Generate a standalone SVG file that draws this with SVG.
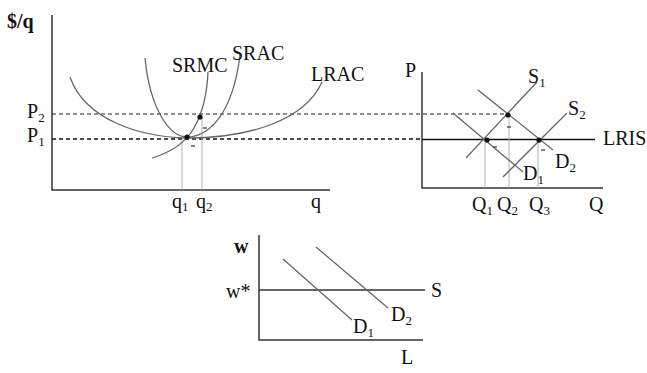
<svg xmlns="http://www.w3.org/2000/svg" width="647" height="373" viewBox="0 0 647 373">
<style>
text{font-family:"Liberation Serif","Times New Roman",serif;font-size:20px;fill:#111}
.sub{font-size:13px}
.axis{stroke:#333;stroke-width:1.5;fill:none}
.curve{stroke:#666;stroke-width:1.3;fill:none}
.dash{stroke:#222;stroke-width:1.1;stroke-dasharray:4 3;fill:none}
.dash2{stroke:#111;stroke-width:1.6;stroke-dasharray:4 3;fill:none}
.vdot{stroke:#aaa;stroke-width:0.9;fill:none}
.tick{stroke:#333;stroke-width:1.2}
.dot{fill:#111}
</style>
<rect width="647" height="373" fill="#fff"/>
<g id="axes">
<path class="axis" d="M52,15 V190 H330"/>
<path class="axis" d="M422,72 V188 H603"/>
<path class="axis" d="M259,235 V340 H423"/>
</g>
<g id="connectors">
<line class="dash" x1="52" y1="114" x2="508" y2="114"/>
<line class="dash2" x1="52" y1="139" x2="422" y2="139"/>
<line x1="422" y1="139.5" x2="595" y2="139.5" stroke="#111" stroke-width="1.5"/>
<line class="vdot" x1="182" y1="139" x2="182" y2="190"/>
<line class="vdot" x1="202" y1="117" x2="202" y2="190"/>
<line class="vdot" x1="485" y1="140" x2="485" y2="188"/>
<line class="vdot" x1="509" y1="115" x2="509" y2="188"/>
<line class="vdot" x1="538" y1="140" x2="538" y2="188"/>
</g>
<g id="LRAC">
<path class="curve" d="M70,77 C85,120 140,137 187,138 C250,138 305,120 322,82"/>
<text x="311" y="81">LRAC</text>
</g>
<g id="SRAC">
<path class="curve" d="M145,58 C150,110 170,137 187,137 C205,137 232,120 240,55"/>
<text x="232" y="60">SRAC</text>
</g>
<g id="SRMC">
<path class="curve" d="M152,158 C172,152 186,142 194,128 C203,112 207,95 208,72"/>
<text x="172" y="72">SRMC</text>
</g>
<g id="left-points">
<circle class="dot" cx="187" cy="137" r="2.6"/>
<circle class="dot" cx="200" cy="117" r="2.6"/>
<line class="tick" x1="203" y1="128" x2="207" y2="128"/>
<line class="tick" x1="191" y1="146" x2="195" y2="146"/>
</g>
<g id="left-labels">
<text x="7" y="28" font-weight="bold">$/q</text>
<text x="27" y="118">P<tspan class="sub" dy="4">2</tspan></text>
<text x="27" y="142">P<tspan class="sub" dy="4">1</tspan></text>
<text x="172" y="208">q<tspan class="sub" dy="3">1</tspan></text>
<text x="196" y="208">q<tspan class="sub" dy="3">2</tspan></text>
<text x="311" y="208">q</text>
</g>
<g id="S1">
<line class="curve" x1="466" y1="158" x2="537" y2="82"/>
<text x="528" y="83">S<tspan class="sub" dy="4">1</tspan></text>
</g>
<g id="S2">
<line class="curve" x1="503" y1="177" x2="567" y2="113"/>
<text x="568" y="115">S<tspan class="sub" dy="4">2</tspan></text>
</g>
<g id="D1">
<line class="curve" x1="453" y1="113" x2="523" y2="172"/>
<text x="523" y="180">D<tspan class="sub" dy="4">1</tspan></text>
</g>
<g id="D2">
<line class="curve" x1="478" y1="90" x2="553" y2="150"/>
<text x="555" y="168">D<tspan class="sub" dy="4">2</tspan></text>
</g>
<g id="right-points">
<circle class="dot" cx="487" cy="140" r="2.6"/>
<circle class="dot" cx="508" cy="115" r="2.6"/>
<circle class="dot" cx="539" cy="140" r="2.6"/>
<line class="tick" x1="507" y1="127" x2="511" y2="127"/>
<line class="tick" x1="493" y1="147" x2="497" y2="147"/>
<line class="tick" x1="541" y1="150" x2="545" y2="150"/>
</g>
<g id="right-labels">
<text x="405" y="77">P</text>
<text x="603" y="145">LRIS</text>
<text x="472" y="211">Q<tspan class="sub" dy="4">1</tspan></text>
<text x="497" y="211">Q<tspan class="sub" dy="4">2</tspan></text>
<text x="529" y="211">Q<tspan class="sub" dy="4">3</tspan></text>
<text x="589" y="211">Q</text>
</g>
<g id="labor-market">
<line x1="259" y1="290" x2="425" y2="290" stroke="#333" stroke-width="1.3"/>
<line class="curve" x1="283" y1="259" x2="352" y2="320"/>
<line class="curve" x1="316" y1="247" x2="388" y2="308"/>
<text x="234" y="253" font-weight="bold">w</text>
<text x="226" y="298">w*</text>
<text x="431" y="297">S</text>
<text x="353" y="333">D<tspan class="sub" dy="4">1</tspan></text>
<text x="391" y="321">D<tspan class="sub" dy="4">2</tspan></text>
<text x="401" y="364">L</text>
</g>
</svg>
